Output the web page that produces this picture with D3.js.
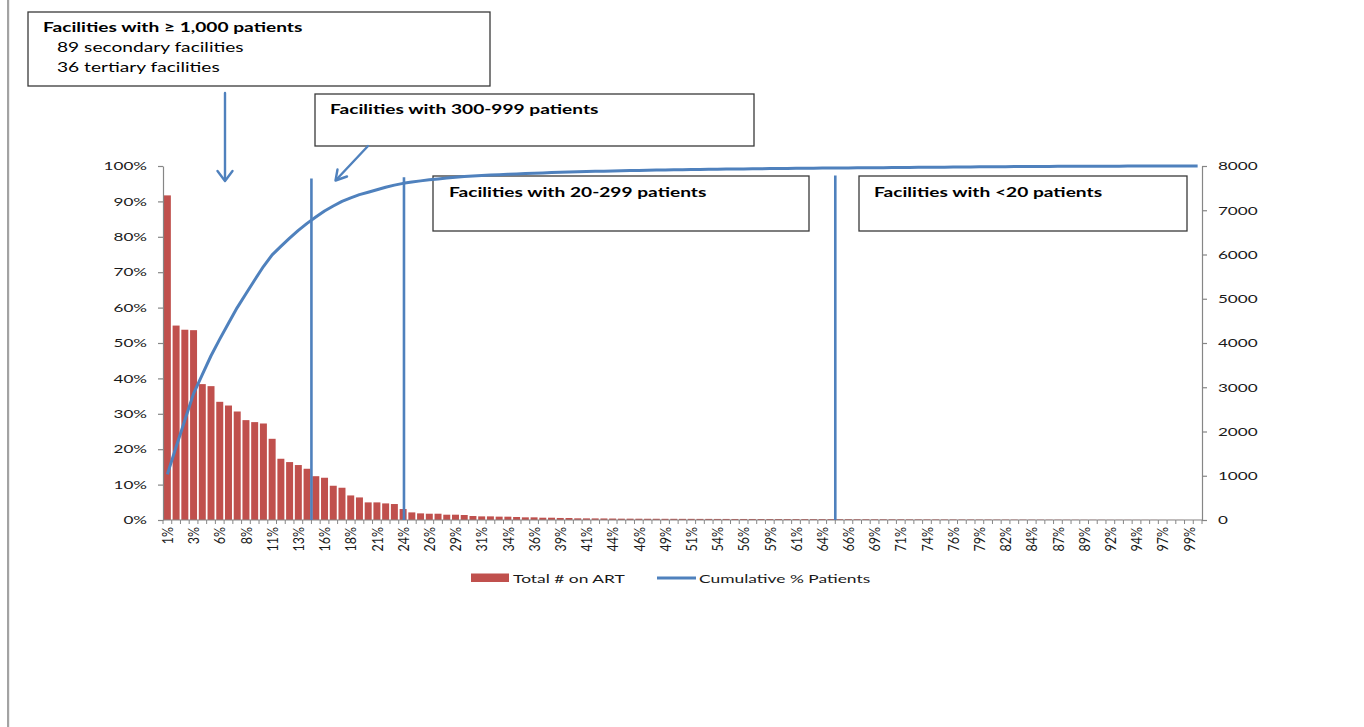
<!DOCTYPE html>
<html><head><meta charset="utf-8">
<script src="https://cdn.jsdelivr.net/npm/d3@7"></script>
<style>body{margin:0;background:#fff;} svg{display:block;font-family:Lato,'Open Sans',sans-serif;}</style>
</head><body>
<svg id="chart" width="1364" height="727"></svg>
<script>
// ---------------- DATA ----------------
const categories = ["1%","2%","3%","3%","4%","5%","6%","7%","8%","8%","9%","10%","11%","12%","13%","13%","14%","15%","16%","17%","18%","18%","19%","20%","21%","22%","23%","24%","24%","25%","26%","27%","28%","29%","29%","30%","31%","32%","33%","34%","34%","35%","36%","37%","38%","39%","39%","40%","41%","42%","43%","44%","45%","45%","46%","47%","48%","49%","50%","50%","51%","52%","53%","54%","55%","55%","56%","57%","58%","59%","60%","61%","61%","62%","63%","64%","65%","66%","66%","67%","68%","69%","70%","71%","71%","72%","73%","74%","75%","76%","76%","77%","78%","79%","80%","81%","82%","82%","83%","84%","85%","86%","87%","87%","88%","89%","90%","91%","92%","92%","93%","94%","95%","96%","97%","97%","98%","99%","100%"];
const totalOnART = [7336,4394,4300,4290,3071,3025,2671,2587,2452,2257,2212,2181,1835,1384,1309,1242,1158,990,955,774,729,555,510,398,398,375,361,248,172,150,142,142,120,120,113,90,82,82,76,75,68,60,60,52,52,46,45,38,37,36,35,33,30,30,29,28,28,27,27,26,26,25,25,24,24,23,23,23,22,22,22,21,21,21,20,20,20,19,19,18,18,17,17,16,16,15,15,14,14,13,13,12,12,11,11,10,10,9,9,8,8,7,7,6,6,5,5,5,4,4,4,3,3,3,2,2,2,1,1];
const cumulativePct = [12.9,20.6,28.2,35.7,41.1,46.4,51.1,55.6,60.0,63.9,67.8,71.6,74.9,77.3,79.6,81.8,83.8,85.6,87.3,88.7,90.0,91.0,91.9,92.6,93.3,94.0,94.6,95.1,95.5,95.8,96.1,96.35,96.6,96.8,97.0,97.15,97.3,97.45,97.55,97.65,97.75,97.85,97.95,98.05,98.15,98.25,98.3,98.4,98.45,98.5,98.55,98.6,98.65,98.7,98.75,98.8,98.84,98.88,98.92,98.96,99.0,99.03,99.06,99.09,99.12,99.15,99.18,99.21,99.24,99.27,99.3,99.32,99.34,99.36,99.38,99.4,99.42,99.44,99.46,99.48,99.5,99.52,99.54,99.56,99.58,99.6,99.62,99.64,99.66,99.68,99.7,99.72,99.74,99.76,99.78,99.8,99.82,99.83,99.85,99.86,99.88,99.89,99.9,99.91,99.92,99.93,99.94,99.95,99.96,99.96,99.97,99.98,99.98,99.99,99.99,99.99,100,100,100];
const leftTicks = [0,10,20,30,40,50,60,70,80,90,100];
const rightTicks = [0,1000,2000,3000,4000,5000,6000,7000,8000];
const seriesNames = ["Total # on ART","Cumulative % Patients"];
const boxTitles = ["Facilities with \u2265 1,000 patients","Facilities with 300-999 patients","Facilities with 20-299 patients","Facilities with <20 patients"];
const boxSubLines = ["89 secondary facilities","36 tertiary facilities"];
const dividerSlots = [17, 27.6, 77];      // group boundaries, in category slots
const dividerTops = [96.5, 96.8, 97.3];  // top of each divider (left-axis %)

// ---------------- LAYOUT ----------------
const svg = d3.select("#chart");
const BAR = "#C0504D", LINE = "#4F81BD", AXIS = "#868686", TXT = "#1a1a1a";
const SX = 1.45; // horizontal stretch of the original picture
const L = 163, R = 1202, T = 166, B = 520;

const x = d3.scaleBand().domain(d3.range(categories.length)).range([L, R]).paddingInner(0.2).paddingOuter(0.1);
const yL = d3.scaleLinear().domain([0, 100]).range([B, T]);
const yR = d3.scaleLinear().domain([0, 8000]).range([B, T]);
const slotX = k => L + k * x.step();

function stext(g, px, py, str, size, weight, anchor, fill) {
  return g.append("text")
    .attr("transform", `translate(${px},${py}) scale(${SX},1)`)
    .attr("font-size", size).attr("font-weight", weight || "normal")
    .attr("text-anchor", anchor || "start").attr("fill", fill || "#000")
    .text(str);
}

// page border on the left
svg.append("rect").attr("x", 7).attr("y", 0).attr("width", 2.2).attr("height", 727).attr("fill", "#a3a3a3");

// annotation boxes (behind line)
const ann = svg.append("g");
const boxes = [
  {x0: 28, y0: 12, x1: 490, y1: 86, tx: 43, ty: 32},
  {x0: 315, y0: 94, x1: 754, y1: 146, tx: 330, ty: 114},
  {x0: 433, y0: 176, x1: 809, y1: 231, tx: 449, ty: 197},
  {x0: 859, y0: 176, x1: 1187, y1: 231, tx: 874, ty: 197}
];
boxes.forEach((b, i) => {
  ann.append("rect").attr("x", b.x0).attr("y", b.y0).attr("width", b.x1 - b.x0).attr("height", b.y1 - b.y0)
    .attr("fill", "#fff").attr("stroke", "#3a3a3a").attr("stroke-width", 1.3);
  stext(ann, b.tx, b.ty, boxTitles[i], 13.2, "bold");
});
boxSubLines.forEach((s, i) => stext(ann, 57, 52 + i * 20, s, 13.2, "normal"));

// bars
svg.append("g").selectAll("rect").data(totalOnART).join("rect")
  .attr("x", (d, i) => x(i)).attr("width", x.bandwidth())
  .attr("y", d => yR(d)).attr("height", d => B - yR(d))
  .attr("fill", BAR);

// axes
const gL = svg.append("g").attr("transform", `translate(${L},0)`)
  .call(d3.axisLeft(yL).tickValues(leftTicks).tickSize(5).tickSizeOuter(0).tickFormat(d => d + "%"));
const gR = svg.append("g").attr("transform", `translate(${R},0)`)
  .call(d3.axisRight(yR).tickValues(rightTicks).tickSize(5).tickSizeOuter(0).tickFormat(d3.format("d")));
[gL, gR].forEach((g, j) => {
  g.select(".domain").attr("stroke", AXIS).attr("stroke-width", 1.2);
  g.selectAll(".tick line").attr("stroke", AXIS).attr("stroke-width", 1.2);
  g.selectAll(".tick text").attr("font-size", 11.8).attr("fill", TXT).attr("font-family", "Lato")
    .attr("x", j === 0 ? -11 : 11)
    .attr("transform", `scale(${SX},1)`);
});
// x axis
const gX = svg.append("g").attr("transform", `translate(0,${B})`);
gX.append("line").attr("x1", L).attr("x2", R).attr("stroke", AXIS).attr("stroke-width", 1.2);
gX.selectAll("line.tk").data(d3.range(categories.length + 1)).join("line").attr("class", "tk")
  .attr("x1", k => slotX(k)).attr("x2", k => slotX(k)).attr("y1", 0).attr("y2", 4)
  .attr("stroke", AXIS).attr("stroke-width", 1);
gX.selectAll("text").data(categories.map((c, i) => ({c, i})).filter(d => d.i % 3 === 0)).join("text")
  .attr("transform", d => `translate(${x(d.i) + x.bandwidth() / 2},7) rotate(-90) scale(1,1.3)`)
  .attr("dy", "0.35em").attr("text-anchor", "end").attr("font-size", 12.5).attr("fill", TXT)
  .text(d => d.c);

// cumulative line
const line = d3.line().x((d, i) => x(i) + x.bandwidth() / 2).y(d => yL(d));
svg.append("path").datum(cumulativePct).attr("d", line).attr("fill", "none")
  .attr("stroke", LINE).attr("stroke-width", 3).attr("stroke-linejoin", "round");

// divider lines
svg.append("g").selectAll("line").data(dividerSlots).join("line")
  .attr("x1", d => slotX(d)).attr("x2", d => slotX(d))
  .attr("y1", (d, i) => yL(dividerTops[i])).attr("y2", B)
  .attr("stroke", LINE).attr("stroke-width", 2.6);

// arrows
const arr = svg.append("g").attr("fill", "none").attr("stroke", LINE).attr("stroke-width", 2.4).attr("stroke-linecap", "round").attr("stroke-linejoin", "round");
arr.append("line").attr("x1", 225).attr("y1", 93).attr("x2", 225).attr("y2", 180);
arr.append("polyline").attr("points", "217.5,171 225,181 232.5,171");
arr.append("line").attr("x1", 368).attr("y1", 146).attr("x2", 336).attr("y2", 180);
arr.append("polyline").attr("points", "337.5,169.5 335.5,180.5 347,176.5");

// legend
const lg = svg.append("g");
lg.append("rect").attr("x", 471).attr("y", 573.5).attr("width", 38).attr("height", 8.5).attr("fill", BAR);
stext(lg, 513, 582.5, seriesNames[0], 12, "normal", "start", TXT);
lg.append("line").attr("x1", 657).attr("x2", 696).attr("y1", 578).attr("y2", 578).attr("stroke", LINE).attr("stroke-width", 3);
stext(lg, 699, 582.5, seriesNames[1], 12, "normal", "start", TXT);
</script>
</body></html>
